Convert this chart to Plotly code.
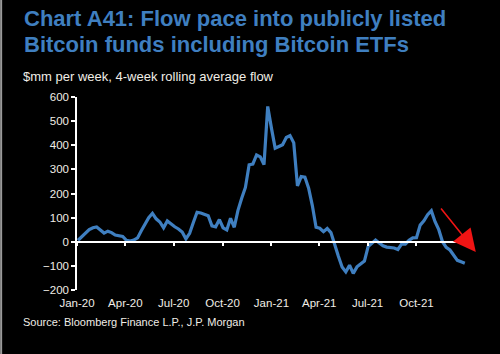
import pandas as pd
import plotly.graph_objects as go

# Weekly 4-week rolling average flow, $mm per week
dates = pd.date_range("2020-01-03", periods=105, freq="W-FRI")
flow = [
    6, 20, 36, 50, 58, 61, 49, 36, 44, 38,
    28, 24, 22, 6, 3, 7, 16, 46, 75, 100,
    118, 95, 82, 58, 86, 72, 62, 53, 40, 12,
    35, 80, 122, 119, 114, 108, 66, 62, 92, 58,
    49, 97, 60, 130, 180, 225, 319, 322, 360, 352,
    320, 561, 471, 388, 395, 402, 432, 440, 410, 232,
    270, 268, 222, 150, 60, 56, 42, 55, 38, -15,
    -60, -105, -125, -97, -131, -104, -93, -80, -20, -8,
    7, -5, -17, -22, -24, -26, -32, -10, -10, 6,
    16, 17, 69, 87, 112, 128, 83, 50, 0, -23,
    -34, -58, -77, -83, -89,
]
tick_dates = ["2020-01-01", "2020-04-01", "2020-07-01", "2020-10-01",
              "2021-01-01", "2021-04-01", "2021-07-01", "2021-10-01"]
tick_labels = ["Jan-20", "Apr-20", "Jul-20", "Oct-20",
               "Jan-21", "Apr-21", "Jul-21", "Oct-21"]
x_range = ["2020-01-01", "2022-01-06"]
y_range = [-200, 600]

title1 = "Chart A41: Flow pace into publicly listed"
title2 = "Bitcoin funds including Bitcoin ETFs"
subtitle = "$mm per week, 4-week rolling average flow"
source = "Source: Bloomberg Finance L.P., J.P. Morgan"

TXT = "#f0ede6"
BLUE = "#3f7fc0"
FONT = "Liberation Sans, Arial, sans-serif"

fig = go.Figure()
fig.add_trace(go.Scatter(x=dates, y=flow, mode="lines",
                         line=dict(color=BLUE, width=3.2), showlegend=False,
                         hoverinfo="skip"))

fig.update_layout(
    width=500, height=354,
    margin=dict(l=77, r=32, t=97, b=64),
    paper_bgcolor="black", plot_bgcolor="black",
    font=dict(family=FONT, color=TXT, size=11.5),
    xaxis=dict(range=x_range, type="date", tickvals=tick_dates, ticktext=tick_labels,
               showgrid=False, zeroline=False, showline=False, ticks="",
               ticklabelstandoff=4,
               tickfont=dict(size=11.5, color=TXT)),
    xaxis2=dict(range=x_range, type="date", overlaying="x", anchor="free",
                position=(0 - y_range[0]) / (y_range[1] - y_range[0]),
                tickvals=tick_dates, showticklabels=False, showgrid=False,
                zeroline=False, showline=True, linecolor="white", linewidth=2,
                ticks="outside", ticklen=3, tickcolor="white", tickwidth=1.5),
    yaxis=dict(range=y_range, dtick=100, showgrid=False, zeroline=False,
               showline=True, linecolor="white", linewidth=1.5,
               ticks="outside", ticklen=4, tickcolor="white", tickwidth=1.5,
               tickfont=dict(size=11.5, color=TXT)),
)
# invisible helper trace so xaxis2 renders
fig.add_trace(go.Scatter(x=[x_range[0]], y=[0], xaxis="x2", mode="markers",
                         marker=dict(opacity=0), showlegend=False, hoverinfo="skip"))

fig.add_annotation(text=title1, xref="paper", yref="paper", x=-0.14, y=1.406,
                   xanchor="left", yanchor="middle", showarrow=False,
                   font=dict(family=FONT, size=22, color=BLUE, weight="bold"))
fig.add_annotation(text=title2, xref="paper", yref="paper", x=-0.14, y=1.273,
                   xanchor="left", yanchor="middle", showarrow=False,
                   font=dict(family=FONT, size=22, color=BLUE, weight="bold"))
fig.add_annotation(text=subtitle, xref="paper", yref="paper", x=-0.142, y=1.105,
                   xanchor="left", yanchor="middle", showarrow=False,
                   font=dict(family=FONT, size=13, color=TXT))
fig.add_annotation(text=source, xref="paper", yref="paper", x=-0.142, y=-0.168,
                   xanchor="left", yanchor="middle", showarrow=False,
                   font=dict(family=FONT, size=11, color=TXT))
# red arrow
fig.add_annotation(text="", xref="paper", yref="paper", x=1.02, y=0.1975,
                   ax=-36, ay=-45, showarrow=True, arrowhead=2, arrowsize=2.8,
                   arrowwidth=1.6, arrowcolor="#f01414")
# left border line
fig.add_shape(type="line", xref="paper", yref="paper", x0=-0.194, x1=-0.194,
              y0=-0.334, y1=1.506, line=dict(color="#9a9a9a", width=2))

fig.write_html("out.html")
